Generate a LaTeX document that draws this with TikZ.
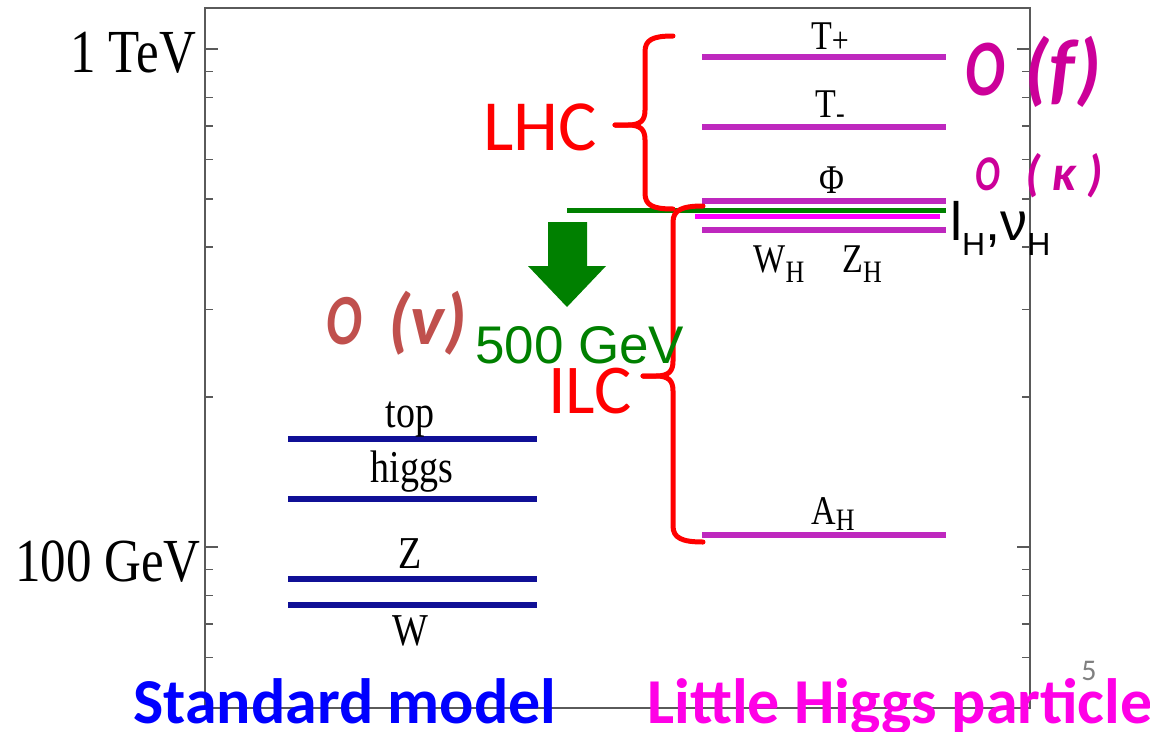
\documentclass[tikz,border=0pt]{standalone}
\usepackage{fontspec}
\setmainfont{Liberation Serif}
\newfontfamily\calfont{Carlito}
\newfontfamily\arialfont{Liberation Sans}
\definecolor{smblue}{RGB}{16,16,150}
\definecolor{lhmag}{RGB}{190,40,190}
\definecolor{brightmag}{RGB}{255,0,255}
\definecolor{dkgreen}{RGB}{0,128,0}
\definecolor{ovcol}{RGB}{192,80,77}
\definecolor{ofcol}{RGB}{204,0,153}
\definecolor{lhtext}{RGB}{255,0,230}
\definecolor{axisgray}{RGB}{90,90,90}
\newcommand\fs[1]{\fontsize{#1}{#1}\selectfont}
\newcommand\stv[1]{\scalebox{1}[1.2]{#1}}
\newcommand\bigO[1]{\scalebox{0.74}[1]{O}}
\tikzset{
  axisline/.style={draw=axisgray, line width=1.6pt},
  tickline/.style={draw=axisgray, line width=1.4pt},
  smlevel/.style={draw=smblue, line width=5.5pt},
  lhlevel/.style={draw=lhmag, line width=6pt},
  bracepath/.style={draw=red, line width=5pt, line cap=round, line join=round},
  lbl/.style={inner sep=0pt, anchor=base},
}
\begin{document}
\begin{tikzpicture}[x=1pt, y=-1pt]
\useasboundingbox (0,0) rectangle (1150,731);
% frame
\draw[axisline] (205,8) rectangle (1030,708);
\foreach \v in {60,70,80,90,200,300,400,500,600,700,800,900}{
  \pgfmathsetmacro\ty{49+498*ln(1000/\v)/ln(10)}
  \draw[tickline] (205,\ty) -- (213,\ty);
  \draw[tickline] (1030,\ty) -- (1022,\ty);
}
\foreach \ty in {49,547}{
  \draw[tickline] (205,\ty) -- (218,\ty);
  \draw[tickline] (1030,\ty) -- (1017,\ty);
}
% axis labels
\node[lbl, anchor=base east] (tev) at (196,72) {\fs{51}\stv{1 TeV}};
\node[lbl, anchor=base east] (gev) at (201,581) {\fs{51}\stv{100 GeV}};
% standard model levels
\draw[smlevel] (288,439) -- (537,439);
\draw[smlevel] (288,499) -- (537,499);
\draw[smlevel] (288,579) -- (537,579);
\draw[smlevel] (288,605) -- (537,605);
\node[lbl] (top) at (410,427) {\fs{38}\stv{top}};
\node[lbl] (higgs) at (412,482) {\fs{38}\stv{higgs}};
\node[lbl] (zb) at (410,568) {\fs{38}\stv{Z}};
\node[lbl] (wb) at (410,645) {\fs{38}\stv{W}};
% little Higgs levels
\draw[lhlevel] (702,57) -- (946,57);
\draw[lhlevel] (702,127) -- (946,127);
\draw[lhlevel] (702,201) -- (946,201);
\draw[lhlevel] (702,230) -- (946,230);
\draw[lhlevel] (702,535) -- (946,535);
\draw[draw=brightmag, line width=5pt] (695,216) -- (940,216);
\draw[draw=dkgreen, line width=5pt] (567,210) -- (946,210);
\node[lbl] (tp) at (830,49) {\fs{34}\stv{T\raisebox{-3pt}{\fs{30}+}}};
\node[lbl] (tm) at (830,117) {\fs{34}\stv{T\raisebox{-5pt}{\fs{26}-}}};
\node[lbl] (phi) at (832,193) {\fs{34}\stv{Φ}};
\node[lbl] (wh) at (779,272) {\fs{34}\stv{W\raisebox{-9pt}{\fs{26}H}}};
\node[lbl] (zh) at (862,272) {\fs{34}\stv{Z\raisebox{-9pt}{\fs{26}H}}};
\node[lbl] (ah) at (833,524) {\fs{34}\stv{A\raisebox{-5pt}{\fs{26}H}}};
% braces
\draw[bracepath] (673,36) .. controls (652,36) and (645,40) .. (645,52) -- (645,110) .. controls (645,120) and (641,125) .. (628,125) -- (615,125);
\draw[bracepath] (615,125) -- (628,125) .. controls (641,125) and (645,130) .. (645,140) -- (645,193) .. controls (645,205) and (652,209) .. (673,209);
\draw[bracepath] (703,206) .. controls (682,206) and (673,210) .. (673,222) -- (673,361) .. controls (673,371) and (669,376) .. (656,376) -- (643,376);
\draw[bracepath] (643,376) -- (656,376) .. controls (669,376) and (673,381) .. (673,391) -- (673,526) .. controls (673,538) and (682,542) .. (703,542);
% green block arrow
\fill[dkgreen] (548,222) -- (587,222) -- (587,266) -- (606,266) -- (567,307) -- (528,266) -- (548,266) -- cycle;
% texts
\node[lbl, anchor=base west, text=red] (lhc) at (483,150) {\calfont\fs{72}LHC};
\node[lbl, anchor=base west, text=red] (ilc) at (548,413) {\calfont\fs{70}ILC};
\node[lbl, anchor=base west, text=dkgreen] (gev5) at (475,363) {\arialfont\fs{53}500 GeV};
\node[lbl, anchor=base west, text=ovcol] (ov) at (326,344) {\calfont\bfseries\itshape\fs{72}\bigO{}\hspace{10pt} (v)};
\node[lbl, anchor=base west, text=ofcol] (of) at (965,95) {\calfont\bfseries\itshape\fs{80}\bigO{}\hspace{2pt} (f)};
\node[lbl, anchor=base west, text=ofcol] (ok) at (975,190) {\calfont\bfseries\itshape\fs{50}\bigO{}\hspace{14pt} ( κ )};
\node[lbl, anchor=base west] (lv) at (950,240) {\arialfont\fs{54}l\raisebox{-15pt}{\fs{32}H},ν\raisebox{-15pt}{\fs{32}H}};
\node[lbl, anchor=base west, text=blue] (smt) at (133,723) {\calfont\bfseries\fs{64}Standard model};
\node[lbl, anchor=base west, text=lhtext] (lht) at (647,723) {\calfont\bfseries\fs{64}Little Higgs particle};
\node[lbl, text=gray] (pg) at (1089,680) {\calfont\fs{30}5};
\end{tikzpicture}
\end{document}
